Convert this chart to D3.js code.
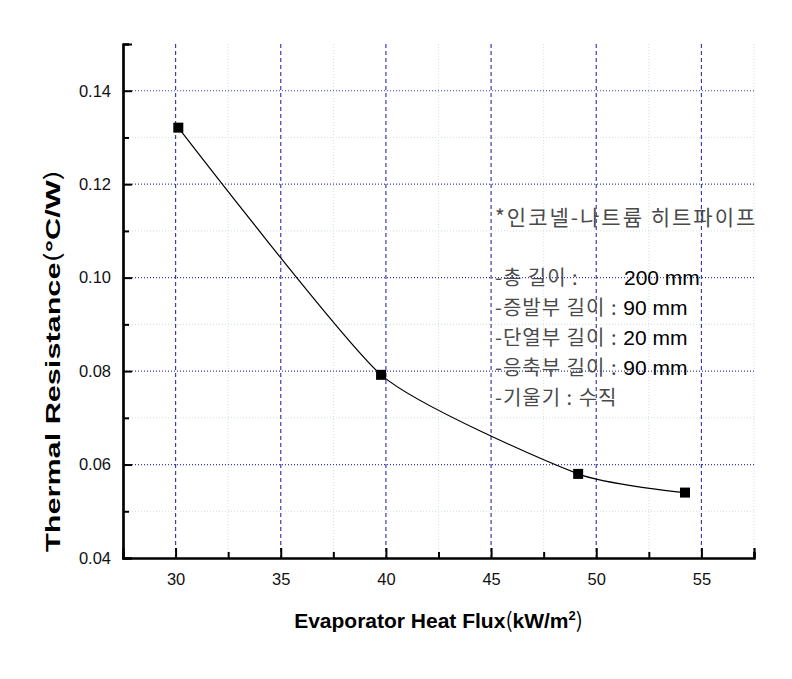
<!DOCTYPE html>
<html>
<head>
<meta charset="utf-8">
<script src="https://cdn.jsdelivr.net/npm/d3@7"></script>
<style>
  body { margin: 0; background: #fff; }
  svg text { font-family: "Liberation Sans", Arial, sans-serif; }
  .kr { font-family: "Noto Sans CJK KR", sans-serif; }
</style>
</head>
<body>
<div id="chart"></div>
<script>
// heat flux (kW/m2) vs thermal resistance (C/W)
const heatFlux = [30.13, 39.77, 49.14, 54.22];
const resistance = [0.1321, 0.0792, 0.0580, 0.0540];

const xTicks = [30, 35, 40, 45, 50, 55];
const xMinorTicks = [27.5, 32.5, 37.5, 42.5, 47.5, 52.5, 57.5];
const yTicks = [0.04, 0.06, 0.08, 0.10, 0.12, 0.14];
const yMinorTicks = [0.05, 0.07, 0.09, 0.11, 0.13, 0.15];

const noteTitle = '*인코넬-나트륨 히트파이프';
const noteKeys = ['-총 길이 :', '-증발부 길이 :', '-단열부 길이 :', '-응축부 길이 :', '-기울기 :'];
const noteValues = ['200 mm', '90 mm', '20 mm', '90 mm', '수직'];

const width = 792;
const height = 679;
const margin = { top: 44, right: 38, bottom: 121, left: 123 };
const plotW = width - margin.left - margin.right;
const plotH = height - margin.top - margin.bottom;

const svg = d3.select('#chart').append('svg')
  .attr('width', width)
  .attr('height', height);

const g = svg.append('g')
  .attr('transform', `translate(${margin.left},${margin.top})`);

const xScale = d3.scaleLinear()
  .domain([27.5, 57.5])
  .range([0, plotW]);

const yScale = d3.scaleLinear()
  .domain([0.04, 0.15])
  .range([plotH, 0]);

// minor grid (faint green dotted)
g.append('g').selectAll('line')
  .data(xMinorTicks.filter(d => d > 27.5))
  .join('line')
  .attr('x1', d => xScale(d)).attr('x2', d => xScale(d))
  .attr('y1', 0).attr('y2', plotH)
  .attr('stroke', '#cfe3cf').attr('stroke-width', 1)
  .attr('stroke-dasharray', '1,2');

g.append('g').selectAll('line')
  .data(yMinorTicks.filter(d => d < 0.15))
  .join('line')
  .attr('x1', 0).attr('x2', plotW)
  .attr('y1', d => yScale(d)).attr('y2', d => yScale(d))
  .attr('stroke', '#cfe3cf').attr('stroke-width', 1)
  .attr('stroke-dasharray', '1,2');

// major grid (blue)
g.append('g').selectAll('line')
  .data(xTicks)
  .join('line')
  .attr('x1', d => xScale(d)).attr('x2', d => xScale(d))
  .attr('y1', 0).attr('y2', plotH)
  .attr('stroke', '#3c3cb4').attr('stroke-width', 1.2)
  .attr('stroke-dasharray', '4,3');

g.append('g').selectAll('line')
  .data(yTicks.filter(d => d > 0.04))
  .join('line')
  .attr('x1', 0).attr('x2', plotW)
  .attr('y1', d => yScale(d)).attr('y2', d => yScale(d))
  .attr('stroke', '#3c3cb4').attr('stroke-width', 1.2)
  .attr('stroke-dasharray', '1,2');

// axes, ticks pointing inward
const xAxis = d3.axisBottom(xScale)
  .tickValues(xTicks)
  .tickSize(-10)
  .tickPadding(15)
  .tickFormat(d3.format('d'));

const xMinor = d3.axisBottom(xScale)
  .tickValues(xMinorTicks)
  .tickSize(-6)
  .tickFormat('');

const yAxis = d3.axisLeft(yScale)
  .tickValues(yTicks)
  .tickSize(-9)
  .tickPadding(12)
  .tickFormat(d3.format('.2f'));

const yMinor = d3.axisLeft(yScale)
  .tickValues(yMinorTicks)
  .tickSize(-6)
  .tickFormat('');

function styleAxis(sel) {
  sel.select('.domain').attr('stroke', '#000').attr('stroke-width', 2.2);
  sel.selectAll('.tick line').attr('stroke', '#000').attr('stroke-width', 2);
  sel.selectAll('.tick text')
    .attr('fill', '#111')
    .style('font-size', '16.5px')
    .style('font-family', '"Liberation Sans", Arial, sans-serif');
}

g.append('g').attr('transform', `translate(0,${plotH})`).call(xMinor).call(styleAxis);
g.append('g').call(yMinor).call(styleAxis);
g.append('g').attr('transform', `translate(0,${plotH})`).call(xAxis).call(styleAxis);
g.append('g').call(yAxis).call(styleAxis);

// data line + square markers
const points = heatFlux.map((x, i) => ({ x: x, y: resistance[i] }));

const line = d3.line()
  .x(d => xScale(d.x))
  .y(d => yScale(d.y))
  .curve(d3.curveCardinal.tension(0.45));

g.append('path')
  .datum(points)
  .attr('d', line)
  .attr('fill', 'none')
  .attr('stroke', '#000')
  .attr('stroke-width', 1.2);

const ms = 10;
g.selectAll('rect.marker')
  .data(points)
  .join('rect')
  .attr('class', 'marker')
  .attr('x', d => xScale(d.x) - ms / 2)
  .attr('y', d => yScale(d.y) - ms / 2)
  .attr('width', ms)
  .attr('height', ms)
  .attr('fill', '#000');

// annotation block
const note = svg.append('g').attr('transform', 'translate(495,0)');
note.append('text')
  .attr('class', 'kr')
  .attr('x', 0).attr('y', 225)
  .attr('fill', '#4a4a4a')
  .style('font-size', '21px')
  .style('letter-spacing', '2px')
  .text(noteTitle);

const lineGap = 30;
noteKeys.forEach((k, i) => {
  const t = note.append('text')
    .attr('x', 0)
    .attr('y', 285 + i * lineGap)
    .style('font-size', '21px');
  t.append('tspan').attr('class', 'kr').attr('fill', '#4a4a4a')
    .style('letter-spacing', '1px').style('font-size', '20px').text(k);
  if (i === 0) {
    t.append('tspan').attr('x', 129).attr('fill', '#000').text(noteValues[i]);
  } else if (i === noteKeys.length - 1) {
    t.append('tspan').attr('class', 'kr').attr('fill', '#4a4a4a')
      .style('letter-spacing', '1px').style('font-size', '20px').text(' ' + noteValues[i]);
  } else {
    t.append('tspan').attr('fill', '#000').text(' ' + noteValues[i]);
  }
});

// axis titles
svg.append('text')
  .attr('x', margin.left + plotW / 2)
  .attr('y', 628)
  .attr('text-anchor', 'middle')
  .style('font-size', '21px')
  .style('font-weight', 'bold')
  .html('Evaporator Heat Flux<tspan class="kr" font-weight="normal">(</tspan>kW/m<tspan dy="-8" font-size="13px">2</tspan><tspan dy="8" class="kr" font-weight="normal">)</tspan>');

svg.append('text')
  .attr('transform', 'translate(60,361) rotate(-90)')
  .attr('text-anchor', 'middle')
  .attr('textLength', 382)
  .attr('lengthAdjust', 'spacingAndGlyphs')
  .style('font-size', '21px')
  .style('font-weight', 'bold')
  .html('Thermal Resistance<tspan class="kr" font-weight="normal">(</tspan>°C/W<tspan class="kr" font-weight="normal">)</tspan>');
</script>
</body>
</html>
